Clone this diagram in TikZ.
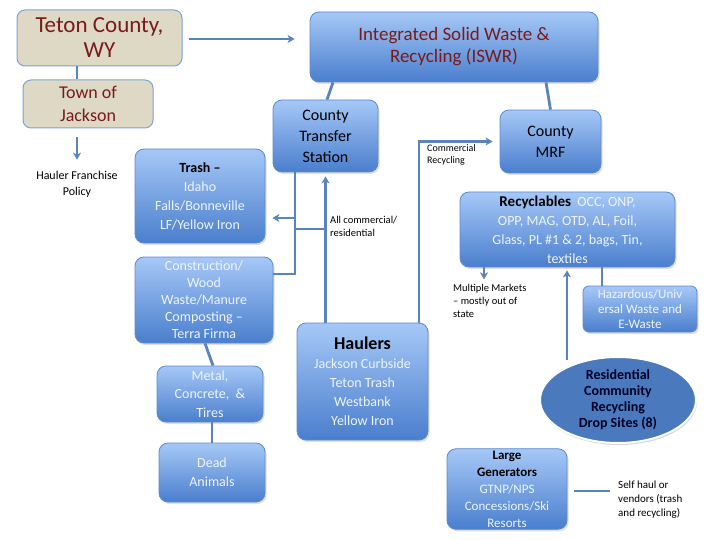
\documentclass[tikz,border=0pt]{standalone}
\usepackage{fontspec}
\setmainfont{Carlito}
\usetikzlibrary{shapes.geometric,shadows,arrows.meta}
\definecolor{boxtop}{HTML}{A6C8F7}
\definecolor{boxbot}{HTML}{4A7ECD}
\definecolor{boxline}{HTML}{5C8BCF}
\definecolor{wirecol}{HTML}{5A84BD}
\definecolor{tan}{HTML}{DDD9C4}
\definecolor{darkred}{HTML}{7A1A1A}
\definecolor{pale}{HTML}{EEF4FF}
\definecolor{dropfill}{HTML}{4A7ABD}
\begin{document}
\begin{tikzpicture}[x=1pt,y=-1pt,
		bluebox/.style={draw=boxline,line width=0.8pt,rounded corners=9pt,top color=boxtop,bottom color=boxbot,align=center,inner sep=2pt,text=pale,drop shadow={shadow xshift=1.5pt,shadow yshift=-2pt,opacity=0.25}},
		tanbox/.style={draw=boxline!80,line width=1pt,rounded corners=8pt,fill=tan,align=center,text=darkred,inner sep=2pt},
		note/.style={align=left,anchor=west,inner sep=0pt},
		wire/.style={draw=wirecol,line width=2.8pt},
		arr/.style={wire,-{Stealth[length=7pt,width=8pt,inset=2pt]}}]
	\useasboundingbox (0,0) rectangle (720,540);
	\fill[white] (0,0) rectangle (720,540);
	\node[tanbox,minimum width=165pt,minimum height=56pt,font=\fontsize{23}{25}\selectfont] (teton) at (99.5,38) {Teton County,\\WY};
	\node[tanbox,minimum width=130pt,minimum height=48pt,font=\fontsize{18}{23}\selectfont] (jackson) at (88,104) {Town of\\Jackson};
	\node[align=center,inner sep=0pt,font=\fontsize{12}{16}\selectfont] (policy) at (77,184) {Hauler Franchise\\Policy};
	\node[bluebox,text=darkred,minimum width=288pt,minimum height=70pt,font=\fontsize{19}{22}\selectfont] (iswr) at (454,47) {Integrated Solid Waste \&\\Recycling (ISWR)};
	\node[bluebox,text=black,minimum width=105pt,minimum height=72pt,font=\fontsize{16}{21}\selectfont] (cts) at (325.5,136) {County\\Transfer\\Station};
	\node[bluebox,text=black,minimum width=101pt,minimum height=63pt,font=\fontsize{16}{21}\selectfont] (mrf) at (550.5,141.5) {County\\MRF};
	\node[bluebox,minimum width=130pt,minimum height=94pt,font=\fontsize{14}{19}\selectfont] (trash) at (200,196) {\textcolor{black}{\textbf{Trash –}}\\Idaho\\Falls/Bonneville\\LF/Yellow Iron};
	\node[bluebox,minimum width=138pt,minimum height=86pt,font=\fontsize{14}{17}\selectfont] (constr) at (204,300) {Construction/\\Wood\\Waste/Manure\\Composting –\\Terra Firma};
	\node[bluebox,minimum width=106pt,minimum height=56pt,font=\fontsize{14}{18.5}\selectfont] (metal) at (210,394) {Metal,\\Concrete,~~\&\\Tires};
	\node[bluebox,minimum width=106pt,minimum height=59pt,font=\fontsize{14}{19}\selectfont] (dead) at (212,472.5) {Dead\\Animals};
	\node[bluebox,minimum width=131pt,minimum height=117pt,font=\fontsize{14}{19}\selectfont] (haulers) at (362.5,381.5) {\textcolor{black}{\fontsize{18}{22}\selectfont\textbf{Haulers}}\\Jackson Curbside\\Teton Trash\\Westbank\\Yellow Iron};
	\node[bluebox,minimum width=215pt,minimum height=75pt,font=\fontsize{14}{19}\selectfont] (recyc) at (567.5,229.5) {\textcolor{black}{\fontsize{15}{19}\selectfont\textbf{Recyclables}}\ \ OCC, ONP,\\OPP, MAG, OTD, AL, Foil,\\Glass, PL \#1 \& 2, bags, Tin,\\textiles};
	\node[bluebox,rounded corners=6pt,minimum width=114pt,minimum height=46pt,font=\fontsize{13}{15}\selectfont] (hazard) at (640,309) {Hazardous/Univ\\ersal Waste and\\E-Waste};
	\node[ellipse,draw=white,line width=2pt,fill=dropfill,minimum width=156pt,minimum height=86pt,align=center,text=black!85!blue,inner sep=0pt,font=\fontsize{14}{16}\selectfont\bfseries,drop shadow={shadow xshift=1pt,shadow yshift=-2pt,opacity=0.3}] (drop) at (618,400) {Residential\\Community\\Recycling\\Drop Sites (8)};
	\node[bluebox,minimum width=120pt,minimum height=78pt,font=\fontsize{13}{17}\selectfont] (large) at (507,489) {\textcolor{black}{\textbf{Large}}\\\textcolor{black}{\textbf{Generators}}\\GTNP/NPS\\Concessions/Ski\\Resorts};
	\node[note,font=\fontsize{10.5}{13}\selectfont] (allres) at (330,226) {All commercial/\\residential};
	\node[note,font=\fontsize{10}{12.5}\selectfont] (comrec) at (427,155) {Commercial\\Recycling};
	\node[note,font=\fontsize{10.5}{13}\selectfont] (markets) at (453,301) {Multiple Markets\\– mostly out of\\state};
	\node[note,font=\fontsize{11}{14}\selectfont] (self) at (618,500) {Self haul or\\vendors (trash\\and recycling)};
	\coordinate (tsdown) at ([xshift=-30.5pt]cts.south);
	\coordinate (j1) at (tsdown |- 0,218);
	\coordinate (j2) at (tsdown |- 0,229);
	\coordinate (j3) at (cts.south |- 0,229);
	\draw[arr,shorten <=6pt,shorten >=15pt] ([yshift=-1pt]teton.east) -- ([yshift=-1pt]teton.east -| iswr.west);
	\draw[wire] (policy.north |- teton.south) -- (policy.north |- jackson.north);
	\draw[arr,shorten <=9pt,shorten >=11pt] (policy.north |- jackson.south) -- (policy.north);
	\draw[wire] ([xshift=-121pt]iswr.south) -- ([xshift=1.5pt]cts.north);
	\draw[wire] ([xshift=92pt]iswr.south) -- (mrf.north);
	\draw[wire] (tsdown) |- ([yshift=26pt]constr.east);
	\draw[arr,shorten >=7pt] (j1) -- (trash.east |- j1);
	\draw[arr,shorten >=4pt] (cts.south |- haulers.north) -- (cts.south);
	\draw[wire] (j3) -- (j2);
	\draw[arr,shorten >=7pt] ([xshift=56.5pt]haulers.north) |- (mrf.west);
	\draw[wire] ([xshift=1pt]constr.south) -- ([xshift=3pt]metal.north);
	\draw[wire] ([xshift=2pt]metal.south) -- (dead.north);
	\draw[arr,shorten >=1pt] ([xshift=-83.5pt]recyc.south) -- ([xshift=-83.5pt,yshift=-13pt]recyc.south);
	\draw[wire] (hazard.north -| 602,0) -- (recyc.south -| 602,0);
	\draw[arr,shorten >=3pt] (drop.north -| 567,0) ++(0,4) -- (recyc.south -| 567,0);
	\draw[wire] ([xshift=7pt,yshift=-2pt]large.east) -- ([xshift=-8pt,yshift=9pt]self.west);
\end{tikzpicture}
\end{document}
